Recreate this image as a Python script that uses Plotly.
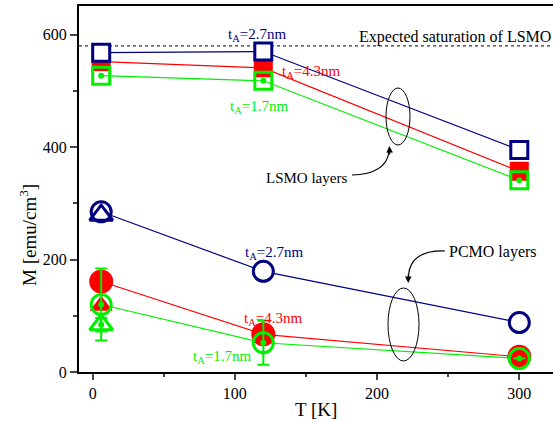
import plotly.graph_objects as go

# ---------------- data ----------------
T = [6, 120, 300]
LSMO_27 = [568, 570, 395]
LSMO_43 = [552, 541, 357]
LSMO_17 = [527, 518, 341]

PCMO_27 = [285, 179, 88]
PCMO_43 = [161, 67, 27]
PCMO_17 = [120, 52, 24]
PCMO_17_err = [64, 39, 0]

T_tri = [6]
TRI_27 = [279]
TRI_43 = [118]
TRI_17 = [84]
TRI_17_err = [12]

SATURATION = 580

x_ticks = [0, 100, 200, 300]
y_ticks = [0, 200, 400, 600]

NAVY = "#000080"
RED = "#FF0000"
GREEN = "#00F000"
FONT = "Liberation Serif"

# ---------------- geometry helpers (for annotations) ----------------
W, H = 553, 422
ML, MR, MT, MB = 79, 0, 6, 50
XR = [-9.6, 323.7]
YR = [0, 651]
PW = W - ML - MR
PH = H - MT - MB


def px2x(p):
    return XR[0] + (p - ML) / PW * (XR[1] - XR[0])


def px2y(p):
    return YR[1] - (p - MT) / PH * (YR[1] - YR[0])


fig = go.Figure()

# lines first
for ys, c in [(LSMO_43, RED), (LSMO_17, GREEN), (LSMO_27, NAVY),
              (PCMO_43, RED), (PCMO_17, GREEN), (PCMO_27, NAVY)]:
    fig.add_trace(go.Scatter(x=T, y=ys, mode="lines", line=dict(color=c, width=1.2),
                             showlegend=False, hoverinfo="skip"))

# saturation line
fig.add_trace(go.Scatter(x=[XR[0], XR[1]], y=[SATURATION, SATURATION], mode="lines",
                         line=dict(color="black", width=1, dash="dot"), showlegend=False))

# LSMO markers
fig.add_trace(go.Scatter(x=T, y=LSMO_43, mode="markers",
                         marker=dict(symbol="square", size=19, color=RED, line=dict(width=0)),
                         showlegend=False))
fig.add_trace(go.Scatter(x=T, y=LSMO_27, mode="markers",
                         marker=dict(symbol="square", size=17, color="white",
                                     line=dict(color=NAVY, width=3)), showlegend=False))
fig.add_trace(go.Scatter(x=T, y=LSMO_17, mode="markers",
                         marker=dict(symbol="square-open", size=17, color=GREEN,
                                     line=dict(color=GREEN, width=3)), showlegend=False))
fig.add_trace(go.Scatter(x=T, y=LSMO_17, mode="markers",
                         marker=dict(symbol="circle", size=6, color=GREEN), showlegend=False))

# PCMO markers
fig.add_trace(go.Scatter(x=T_tri, y=TRI_43, mode="markers",
                         marker=dict(symbol="triangle-up", size=20, color=RED), showlegend=False))
fig.add_trace(go.Scatter(x=T, y=PCMO_43, mode="markers",
                         marker=dict(symbol="circle", size=24, color=RED, line=dict(width=0)),
                         showlegend=False))
fig.add_trace(go.Scatter(x=T, y=PCMO_27, mode="markers",
                         marker=dict(symbol="circle", size=20, color="white",
                                     line=dict(color=NAVY, width=3)), showlegend=False))
fig.add_trace(go.Scatter(x=T_tri, y=TRI_27, mode="markers",
                         marker=dict(symbol="triangle-up-open", size=20, color=NAVY,
                                     line=dict(color=NAVY, width=3)), showlegend=False))
fig.add_trace(go.Scatter(x=T_tri, y=TRI_17, mode="markers",
                         error_y=dict(type="data", array=TRI_17_err, color=GREEN, thickness=2, width=6),
                         marker=dict(symbol="triangle-up-open", size=20, color=GREEN,
                                     line=dict(color=GREEN, width=3)), showlegend=False))
fig.add_trace(go.Scatter(x=T, y=PCMO_17, mode="markers",
                         error_y=dict(type="data", array=PCMO_17_err, color=GREEN, thickness=2, width=6),
                         marker=dict(symbol="circle-open", size=20, color=GREEN,
                                     line=dict(color=GREEN, width=3)), showlegend=False))
fig.add_trace(go.Scatter(x=T + T_tri, y=PCMO_17 + TRI_17, mode="markers",
                         marker=dict(symbol="circle", size=6, color=GREEN), showlegend=False))

# ---------------- ellipses & curved arrows ----------------
shapes = [
    dict(type="circle", xref="x", yref="y", x0=px2x(386), x1=px2x(410), y0=px2y(145), y1=px2y(88),
         line=dict(color="black", width=1)),
    dict(type="circle", xref="x", yref="y", x0=px2x(388), x1=px2x(419), y0=px2y(361), y1=px2y(288),
         line=dict(color="black", width=1)),
    dict(type="path", xref="x", yref="y",
         path=f"M {px2x(352)},{px2y(175)} Q {px2x(386)},{px2y(174)} {px2x(389)},{px2y(152)}",
         line=dict(color="black", width=1.2)),
    dict(type="path", xref="x", yref="y",
         path=f"M {px2x(445)},{px2y(251)} Q {px2x(410)},{px2y(250)} {px2x(408.5)},{px2y(276)}",
         line=dict(color="black", width=1.2)),
]

annotations = []


def txt(text, cx, cy, color, size=15, xanchor="center", angle=0):
    annotations.append(dict(text=text, x=px2x(cx), y=px2y(cy), xref="x", yref="y",
                            showarrow=False, xanchor=xanchor, yanchor="middle", textangle=angle,
                            font=dict(family=FONT, size=size, color=color)))


txt("t<sub>A</sub>=2.7nm", 257, 35, NAVY)
txt("t<sub>A</sub>=4.3nm", 311, 72, RED)
txt("t<sub>A</sub>=1.7nm", 259, 107, GREEN)
txt("t<sub>A</sub>=2.7nm", 274, 253, NAVY)
txt("t<sub>A</sub>=4.3nm", 273, 319, RED)
txt("t<sub>A</sub>=1.7nm", 222, 357, GREEN)
txt("Expected saturation of LSMO", 553, 37, "black", size=16, xanchor="right")
txt("LSMO layers", 349, 178, "black", size=15, xanchor="right")
txt("PCMO layers", 493, 252, "black", size=16)

# arrowheads
for tip, off in [((389.3, 146), (0.5, 10)), ((408.3, 283), (0, -10))]:
    annotations.append(dict(x=px2x(tip[0]), y=px2y(tip[1]), xref="x", yref="y", text="",
                            showarrow=True, arrowhead=2, arrowsize=1.1, arrowwidth=1.2,
                            arrowcolor="black", ax=off[0], ay=off[1], standoff=0))

# axis titles (positioned by pixel -> paper)
annotations.append(dict(text="M [emu/cm<sup>3</sup>]", x=(28 - ML) / PW, y=(H - MB - 235) / PH,
                        xref="paper", yref="paper", xanchor="center", yanchor="middle",
                        showarrow=False, textangle=-90, font=dict(family=FONT, size=19, color="black")))
annotations.append(dict(text="T [K]", x=(316 - ML) / PW, y=(H - MB - 410) / PH,
                        xref="paper", yref="paper", xanchor="center", yanchor="middle",
                        showarrow=False, font=dict(family=FONT, size=19, color="black")))

fig.update_layout(
    width=W, height=H,
    margin=dict(l=ML, r=MR, t=MT, b=MB),
    paper_bgcolor="white", plot_bgcolor="white",
    showlegend=False,
    shapes=shapes,
    annotations=annotations,
    font=dict(family=FONT, size=16, color="black"),
    xaxis=dict(range=XR, tickvals=x_ticks, ticks="outside", ticklen=6, tickwidth=1.5,
               showline=True, linecolor="black", linewidth=2, mirror=True,
               showgrid=False, zeroline=False,
               minor=dict(dtick=50, tick0=0, ticks="outside", ticklen=3, tickwidth=1.5, showgrid=False),
               tickfont=dict(family=FONT, size=16, color="black")),
    yaxis=dict(range=YR, tickvals=y_ticks, ticks="outside", ticklen=7, tickwidth=1.5,
               showline=True, linecolor="black", linewidth=2,
               showgrid=False, zeroline=False,
               minor=dict(dtick=100, tick0=0, ticks="outside", ticklen=4, tickwidth=1.5, showgrid=False),
               tickfont=dict(family=FONT, size=16, color="black")),
)

fig.write_html("out.html")
